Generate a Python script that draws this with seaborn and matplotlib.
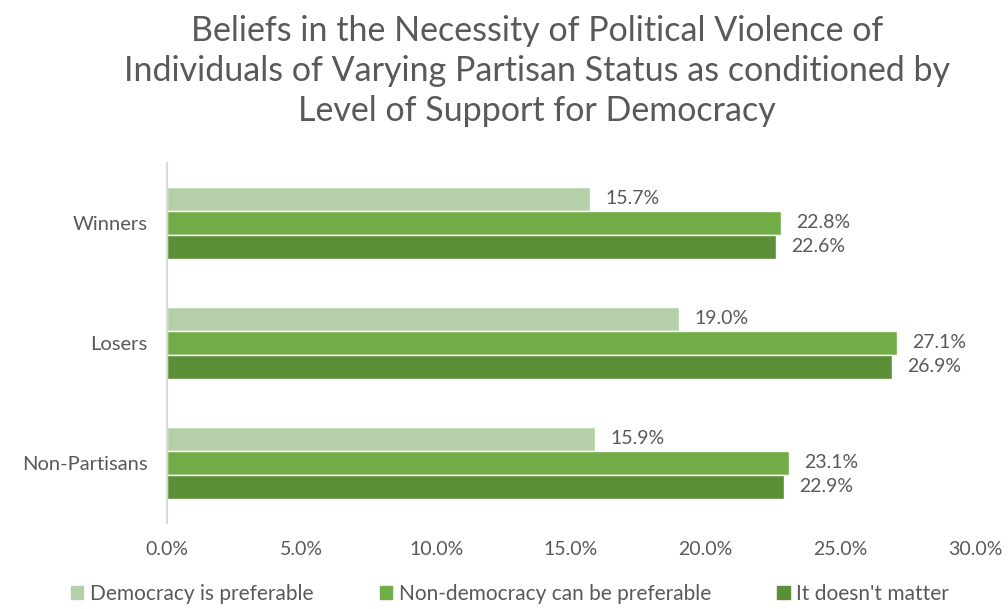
import matplotlib
matplotlib.use("Agg")
import matplotlib.pyplot as plt
import seaborn as sns
import pandas as pd
from matplotlib.ticker import FuncFormatter, MultipleLocator

# Share (%) believing political violence is necessary, by partisan status and regime preference
groups = ["Winners", "Losers", "Non-Partisans"]
series = ["Democracy is preferable", "Non-democracy can be preferable", "It doesn't matter"]
democracy_pref = [15.7, 19.0, 15.9]
nondemocracy_pref = [22.8, 27.1, 23.1]
doesnt_matter = [22.6, 26.9, 22.9]
colors = ["#B5CFA8", "#70AD47", "#5A8F38"]

rows = []
for s, vals in zip(series, [democracy_pref, nondemocracy_pref, doesnt_matter]):
    for g, v in zip(groups, vals):
        rows.append({"group": g, "support": s, "value": v})
df = pd.DataFrame(rows)

sns.set_theme(style="white")
plt.rcParams["font.family"] = ["Lato", "DejaVu Sans"]
text_color = "#595959"

fig = plt.figure(figsize=(10.08, 6.09), dpi=100)
ax = fig.add_axes([167 / 1008, 1 - 523 / 609, (975 - 167) / 1008, (523 - 163) / 609])

sns.barplot(data=df, y="group", x="value", hue="support", order=groups,
            hue_order=series, palette=colors, orient="h", width=0.6,
            saturation=1, ax=ax, legend=False)

for container in ax.containers:
    ax.bar_label(container, labels=[f"{v:.1f}%" for v in container.datavalues],
                 padding=11, fontsize=14, color=text_color)

ax.set_xlim(0, 30)
ax.set_ylim(2.5, -0.5)
ax.xaxis.set_major_locator(MultipleLocator(5))
ax.xaxis.set_major_formatter(FuncFormatter(lambda v, _: f"{v:.1f}%"))
ax.set_xlabel("")
ax.set_ylabel("")
ax.tick_params(axis="x", labelsize=14, labelcolor=text_color, length=0, pad=13)
ax.tick_params(axis="y", labelsize=14.5, labelcolor=text_color, length=0, pad=14)
for side in ["top", "right", "bottom"]:
    ax.spines[side].set_visible(False)
ax.spines["left"].set_color("#D9D9D9")
ax.spines["left"].set_linewidth(1.5)
ax.grid(False)

fig.text(537 / 1008, 1 - 71 / 609,
         "Beliefs in the Necessity of Political Violence of\n"
         "Individuals of Varying Partisan Status as conditioned by\n"
         "Level of Support for Democracy",
         ha="center", va="center", fontsize=24.5, color=text_color, linespacing=1.3)

handles = [plt.Rectangle((0, 0), 1, 1, color=c) for c in colors]
fig.legend(handles, series, loc="center", bbox_to_anchor=(510 / 1008, 1 - 594 / 609),
           ncol=3, frameon=False, fontsize=15, labelcolor=text_color,
           handlelength=0.6, handleheight=0.6, handletextpad=0.3, columnspacing=3.2)

fig.savefig("out.png", dpi=100)
